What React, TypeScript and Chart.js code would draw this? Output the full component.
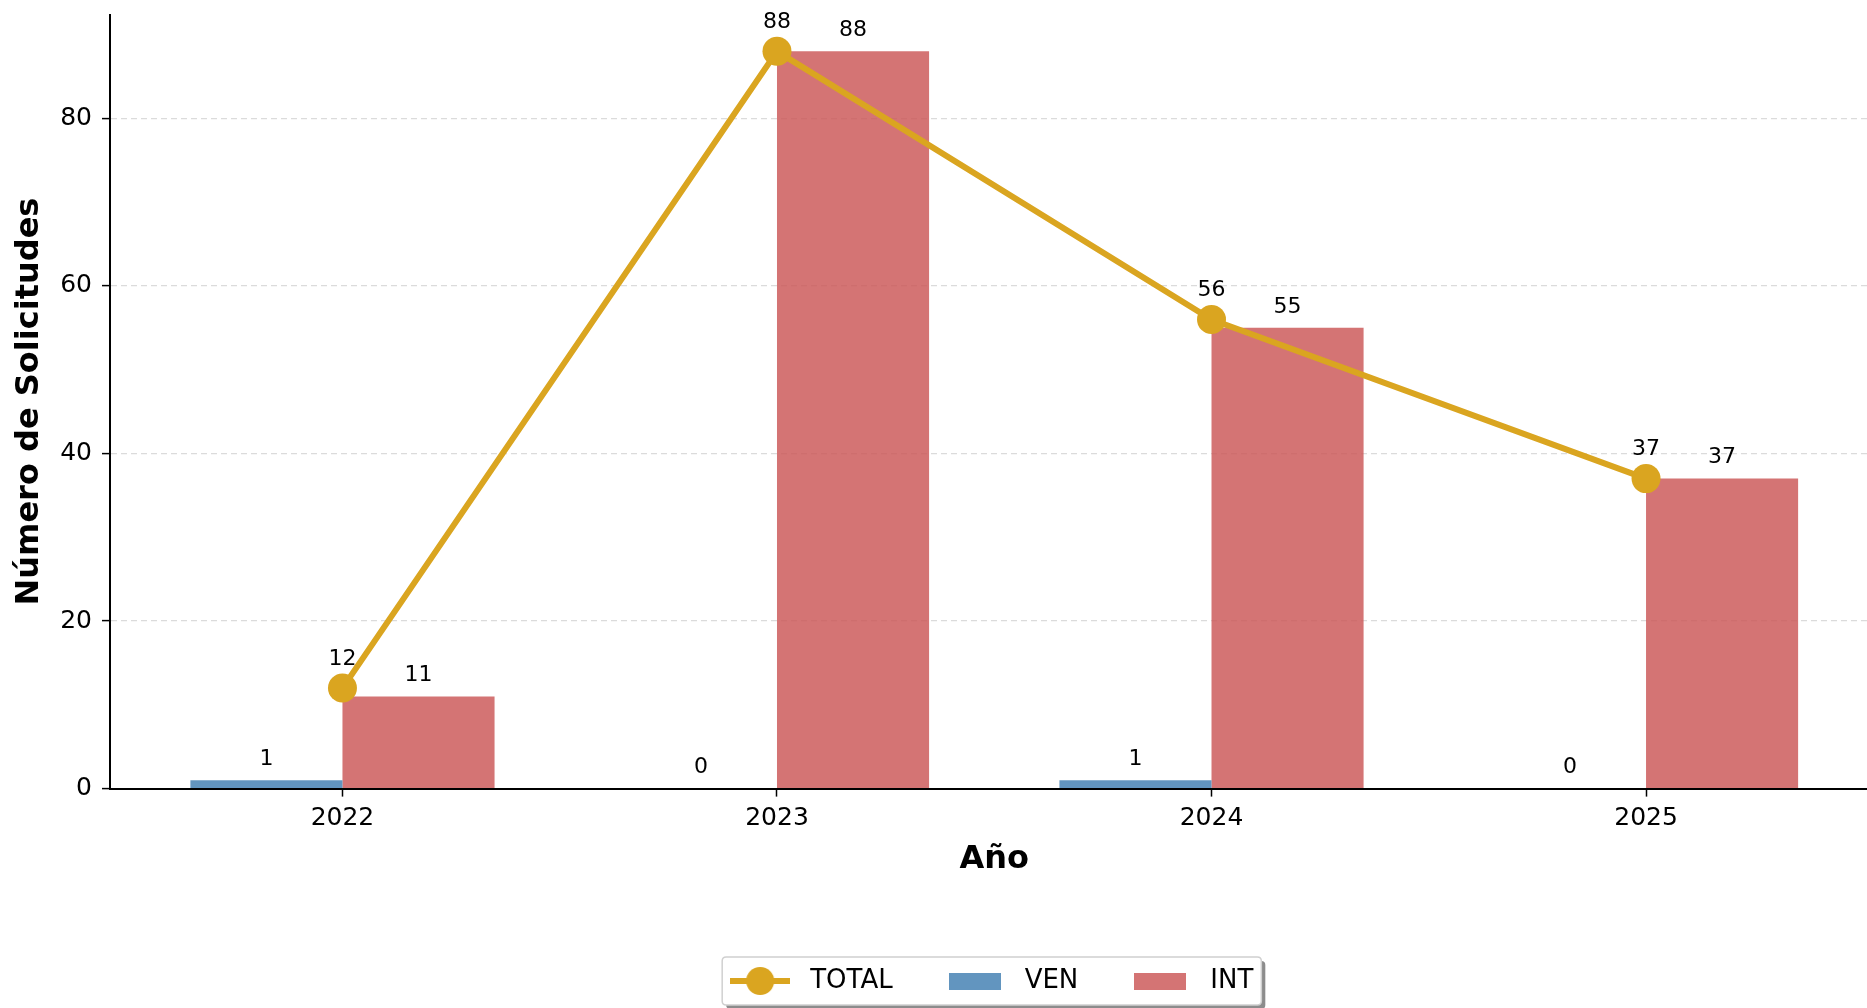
import React, { useEffect, useRef } from "react";
import { Chart, registerables } from "chart.js";

Chart.register(...registerables);

const YEARS = ["2022", "2023", "2024", "2025"];
const TOTAL = [12, 88, 56, 37];
const VEN = [1, 0, 1, 0];
const INT = [11, 88, 55, 37];
const Y_TICKS = [0, 20, 40, 60, 80];

const GOLD = "#DAA520";
const BLUE = "rgba(70,130,180,0.85)";
const RED = "rgba(205,92,92,0.85)";
const BAR_SHIFT = 0.175;
const FONT = "'DejaVu Sans'";

function makeLineIcon(): HTMLCanvasElement {
  const c = document.createElement("canvas");
  c.width = 60;
  c.height = 30;
  const g = c.getContext("2d")!;
  g.strokeStyle = GOLD;
  g.lineWidth = 6;
  g.beginPath();
  g.moveTo(0, 15);
  g.lineTo(60, 15);
  g.stroke();
  g.fillStyle = GOLD;
  g.beginPath();
  g.arc(30, 15, 14, 0, Math.PI * 2);
  g.fill();
  return c;
}

function makeRectIcon(color: string): HTMLCanvasElement {
  const c = document.createElement("canvas");
  c.width = 52;
  c.height = 17;
  const g = c.getContext("2d")!;
  g.fillStyle = color;
  g.fillRect(0, 0, 52, 17);
  return c;
}

const valueLabels = {
  id: "valueLabels",
  afterDatasetsDraw(chart: any) {
    const ctx = chart.ctx;
    ctx.save();
    ctx.font = `22px ${FONT}`;
    ctx.fillStyle = "#000";
    ctx.textAlign = "center";
    ctx.textBaseline = "middle";
    chart.data.datasets.forEach((ds: any, di: number) => {
      const meta = chart.getDatasetMeta(di);
      meta.data.forEach((el: any, i: number) => {
        const v = ds.data[i].y;
        const off = ds.type === "line" ? 29 : 21;
        ctx.fillText(String(v), el.x, el.y - off);
      });
    });
    ctx.restore();
  },
};

const legendShift = {
  id: "legendShift",
  afterLayout(chart: any) {
    const lg = chart.legend;
    if (!lg) return;
    lg.left -= 6;
    lg.right -= 6;
  },
};

const legendFrame = {
  id: "legendFrame",
  beforeDraw(chart: any) {
    const lg = chart.legend;
    if (!lg || !lg.legendHitBoxes || !lg.legendHitBoxes.length) return;
    const hb = lg.legendHitBoxes;
    const left = Math.min(...hb.map((h: any) => h.left)) - 1;
    const right = Math.max(...hb.map((h: any) => h.left + h.width)) + 8;
    const cy = hb[0].top + hb[0].height / 2;
    const top = cy - 24;
    const h = 48;
    const ctx = chart.ctx;
    ctx.save();
    const rr = (x: number, y: number, w: number, hh: number, r: number) => {
      ctx.beginPath();
      ctx.moveTo(x + r, y);
      ctx.lineTo(x + w - r, y);
      ctx.quadraticCurveTo(x + w, y, x + w, y + r);
      ctx.lineTo(x + w, y + hh - r);
      ctx.quadraticCurveTo(x + w, y + hh, x + w - r, y + hh);
      ctx.lineTo(x + r, y + hh);
      ctx.quadraticCurveTo(x, y + hh, x, y + hh - r);
      ctx.lineTo(x, y + r);
      ctx.quadraticCurveTo(x, y, x + r, y);
      ctx.closePath();
    };
    rr(left + 4, top + 4, right - left, h, 4);
    ctx.fillStyle = "rgba(0,0,0,0.45)";
    ctx.fill();
    rr(left, top, right - left, h, 4);
    ctx.fillStyle = "#ffffff";
    ctx.fill();
    ctx.strokeStyle = "#d0d0d0";
    ctx.lineWidth = 1.5;
    ctx.stroke();
    ctx.restore();
  },
};

export default function App() {
  const ref = useRef<HTMLCanvasElement>(null);

  useEffect(() => {
    if (!ref.current) return;
    Chart.defaults.font.family = FONT;
    Chart.defaults.color = "#000";
    const icons = [makeLineIcon(), makeRectIcon(BLUE), makeRectIcon(RED)];

    const chart = new Chart(ref.current, {
      type: "bar",
      data: {
        datasets: [
          {
            type: "line",
            label: "TOTAL",
            data: TOTAL.map((v, i) => ({ x: i, y: v })),
            borderColor: GOLD,
            backgroundColor: GOLD,
            borderWidth: 6,
            pointRadius: 14.5,
            pointHoverRadius: 14.5,
            pointBackgroundColor: GOLD,
            pointBorderWidth: 0,
            tension: 0,
            order: 0,
          } as any,
          {
            type: "bar",
            label: "VEN",
            data: VEN.map((v, i) => ({ x: i - BAR_SHIFT, y: v })),
            backgroundColor: BLUE,
            borderWidth: 0,
            inflateAmount: 0,
            grouped: false,
            categoryPercentage: 1,
            barPercentage: 1,
            order: 1,
          } as any,
          {
            type: "bar",
            label: "INT",
            data: INT.map((v, i) => ({ x: i + BAR_SHIFT, y: v })),
            backgroundColor: RED,
            borderWidth: 0,
            inflateAmount: 0,
            grouped: false,
            categoryPercentage: 1,
            barPercentage: 1,
            order: 1,
          } as any,
        ],
      },
      options: {
        animation: false,
        responsive: false,
        devicePixelRatio: 1,
        layout: { padding: { top: 14, left: 0, right: 1, bottom: 4 } },
        scales: {
          x: {
            type: "linear",
            offset: false,
            min: -0.535,
            max: 3.535,
            afterBuildTicks: (scale: any) => {
              scale.ticks = YEARS.map((_, i) => ({ value: i }));
            },
            afterFit: (scale: any) => {
              scale.paddingLeft = 0;
              scale.paddingRight = 0;
            },
            ticks: {
              callback: (v: any) => YEARS[Math.round(Number(v))],
              font: { size: 25 },
              color: "#000",
              padding: 7,
              maxRotation: 0,
              autoSkip: false,
            },
            grid: {
              display: true,
              offset: false,
              drawOnChartArea: false,
              drawTicks: true,
              tickLength: 8,
              tickColor: "#000",
              tickWidth: 1.5,
            },
            border: { display: true, color: "#000", width: 2 },
            title: {
              display: true,
              text: "Año",
              font: { size: 32, weight: "bold" },
              color: "#000",
              padding: { top: 0, bottom: 44 },
            },
          },
          y: {
            type: "linear",
            min: 0,
            max: 92.4,
            afterBuildTicks: (scale: any) => {
              scale.ticks = Y_TICKS.map((v) => ({ value: v }));
            },
            afterFit: (scale: any) => {
              scale.width = 110;
              scale.paddingTop = 0;
              scale.paddingBottom = 0;
            },
            ticks: {
              font: { size: 25 },
              color: "#000",
              padding: 10,
            },
            grid: {
              display: true,
              drawOnChartArea: true,
              drawTicks: true,
              tickLength: 8,
              tickColor: "#000",
              tickWidth: 1.5,
              color: "rgba(190,190,190,0.55)",
              lineWidth: 1.2,
            },
            border: { display: true, color: "#000", width: 2, dash: [6, 4] },
            title: {
              display: true,
              text: "Número de Solicitudes",
              font: { size: 32, weight: "bold" },
              color: "#000",
              padding: { top: 10, bottom: 0 },
            },
          },
        },
        plugins: {
          tooltip: { enabled: false },
          legend: {
            display: true,
            position: "bottom",
            fullSize: false,
            labels: {
              usePointStyle: true,
              pointStyleWidth: 74,
              padding: 45,
              color: "#000",
              font: { size: 26 },
              generateLabels: (ch: any) => {
                const items = (Chart.defaults.plugins.legend.labels as any).generateLabels(ch);
                return items.map((it: any) => ({ ...it, pointStyle: icons[it.datasetIndex] }));
              },
            },
          },
        },
      } as any,
      plugins: [valueLabels, legendShift, legendFrame],
    });
    return () => chart.destroy();
  }, []);

  return (
    <div
      style={{
        position: "fixed",
        left: 0,
        top: 0,
        width: 1867,
        height: 1008,
        overflow: "hidden",
        background: "#fff",
      }}
    >
      <canvas ref={ref} width={1893} height={1008} style={{ display: "block", width: 1893, height: 1008 }} />
    </div>
  );
}
